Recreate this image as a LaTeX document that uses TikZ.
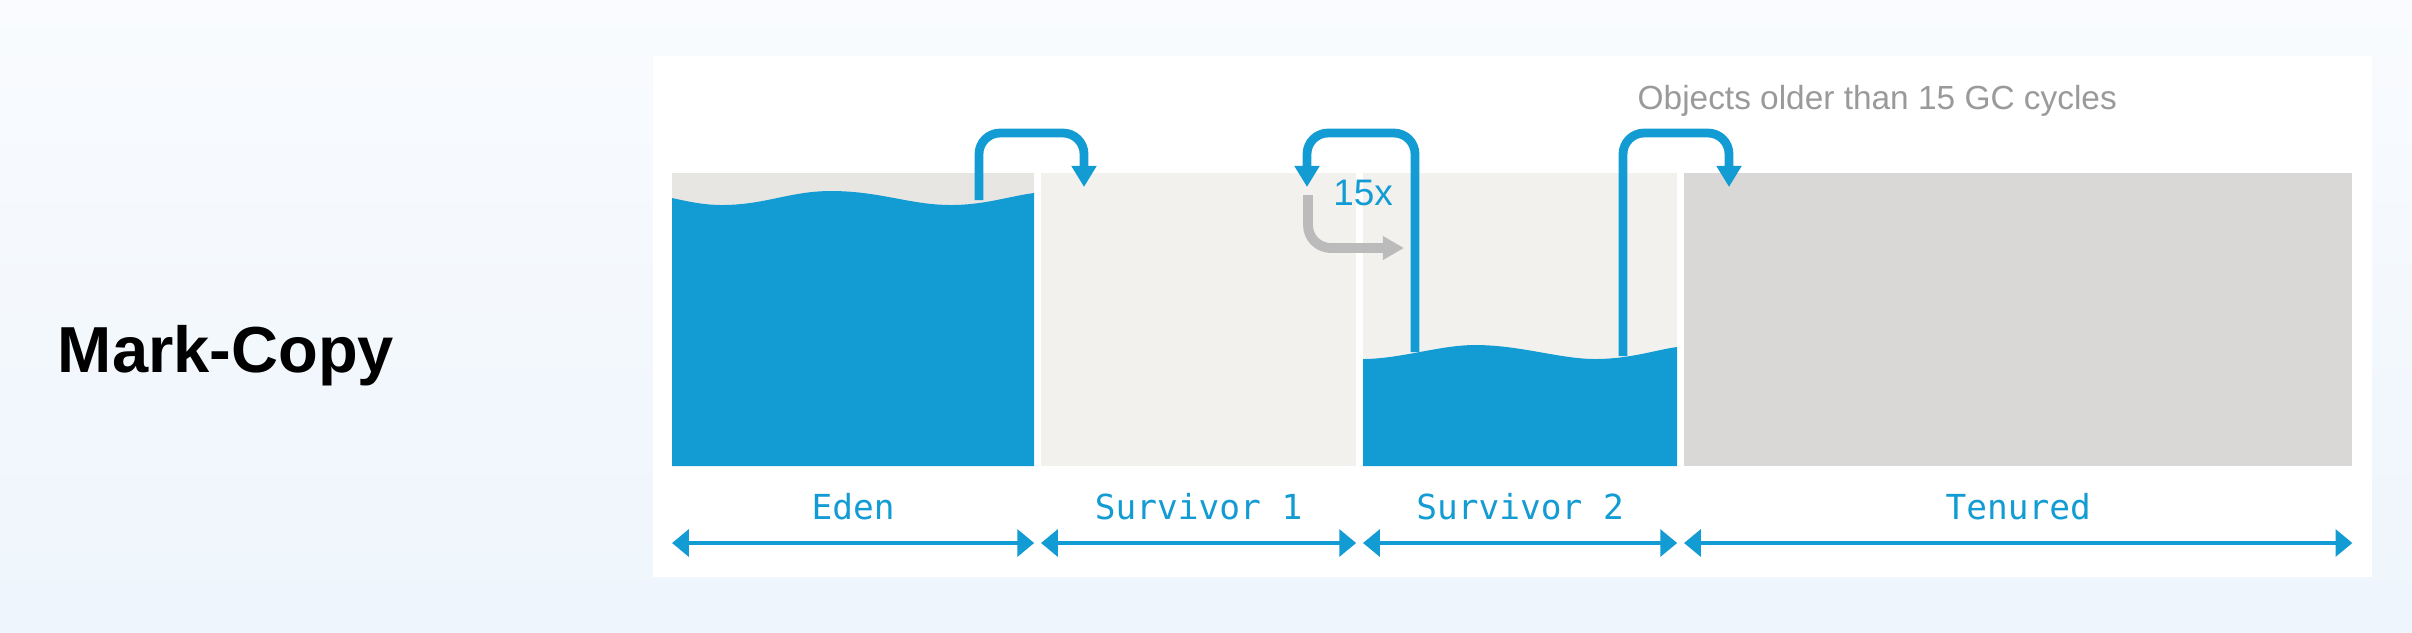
\documentclass[tikz,border=0pt]{standalone}
\usepackage{fontspec}
\setmainfont{Liberation Sans}
\newfontfamily\genmono{DejaVu Sans Mono}
\usepackage{xcolor}
\usetikzlibrary{arrows.meta,positioning,calc}
\definecolor{gcblue}{HTML}{139CD3}
\definecolor{edengray}{HTML}{E8E6E2}
\definecolor{survgray}{HTML}{F2F1EE}
\definecolor{tengray}{HTML}{D9D8D6}
\definecolor{notegray}{HTML}{9A9A9A}
\definecolor{loopgray}{HTML}{BBBBBB}
\definecolor{bgtop}{HTML}{F9FBFE}
\definecolor{bgbot}{HTML}{EEF5FC}
\tikzset{
  region/.style  ={draw=none,inner sep=0pt,outer sep=0pt,minimum height=2.93cm,anchor=north west},
  flow/.style    ={draw=gcblue,line width=2.5pt,rounded corners=6pt,-{Triangle[length=6pt,width=6.8pt]}},
  ageflow/.style ={draw=loopgray,line width=2.8pt,rounded corners=6.5pt,-{Triangle[length=6pt,width=6.4pt]}},
  span/.style    ={draw=gcblue,line width=1.4pt,{Triangle[length=4.8pt,width=7.6pt]}-{Triangle[length=4.8pt,width=7.6pt]}},
  genlabel/.style={font=\genmono\fontsize{9.8}{12}\selectfont,text=gcblue,anchor=base,inner sep=0pt},
}

\begin{document}
\begin{tikzpicture}[x=0.01cm,y=-0.01cm]
  \shade[top color=bgtop,bottom color=bgbot] (0,0) rectangle (2412,632);
  \useasboundingbox (0,0) rectangle (2412,632);
  \fill[white] (653,56) rectangle (2372,577);
  \node[font=\bfseries\fontsize{18.5}{22}\selectfont] (title) at (226,356) {Mark-Copy};

  \coordinate (labely) at (0,519);
  \coordinate (spany) at (0,543);
  \foreach \x/\w/\name/\col/\txt in {672/3.62/eden/edengray/Eden,1041/3.15/surv1/survgray/Survivor 1,
                                     1363/3.14/surv2/survgray/Survivor 2,1684/6.68/tenured/tengray/Tenured}{
     \node[region,fill=\col,minimum width=\w cm] (\name) at (\x,173) {};
     \node[genlabel] (\name-lbl) at (\name.south |- labely) {\txt};
     \draw[span] (\name.south west |- spany) -- (\name.south east |- spany);
  }

  % live objects
  \fill[gcblue] (eden.south west) -- (672,198) .. controls (690,202) and (705,205) .. (722,205)
     .. controls (765,205) and (790,191) .. (831,191) .. controls (880,191) and (910,205) .. (951,205)
     .. controls (985,205) and (1010,196) .. (1034,193) -- (eden.south east) -- cycle;
  \fill[gcblue] (surv2.south west) -- (1363,359) .. controls (1400,359) and (1440,345) .. (1475,345)
     .. controls (1520,345) and (1560,359) .. (1595,359) .. controls (1630,359) and (1655,350) .. (1677,347)
     -- (surv2.south east) -- cycle;

  \coordinate (ceil) at (0,133);
  \coordinate (edenout) at (979,200);
  \coordinate (surv1in) at (1084,187);
  \coordinate (surv2back) at (1415,352);
  \coordinate (surv1back) at (1307,187);
  \coordinate (surv2out) at (1623,356);
  \coordinate (tenuredin) at (1729,187);
  \draw[flow] (edenout) -- (edenout |- ceil) -- (ceil -| surv1in) -- (surv1in);
  \draw[flow] (surv2back) -- (surv2back |- ceil) -- (ceil -| surv1back) -- (surv1back);
  \draw[flow] (surv2out) -- (surv2out |- ceil) -- (ceil -| tenuredin) -- (tenuredin);

  \coordinate (agestart) at (1308,195);
  \coordinate (ageend) at (1404,248);
  \draw[ageflow] (agestart) |- (ageend);
  \node[font=\fontsize{10.5}{12}\selectfont,text=gcblue] (count) at (1363,193) {15x};
  \node[font=\fontsize{9.5}{11}\selectfont,text=notegray,anchor=base west,inner sep=0pt] (note) at (1637,109)
     {Objects older than 15 GC cycles};
\end{tikzpicture}
\end{document}
